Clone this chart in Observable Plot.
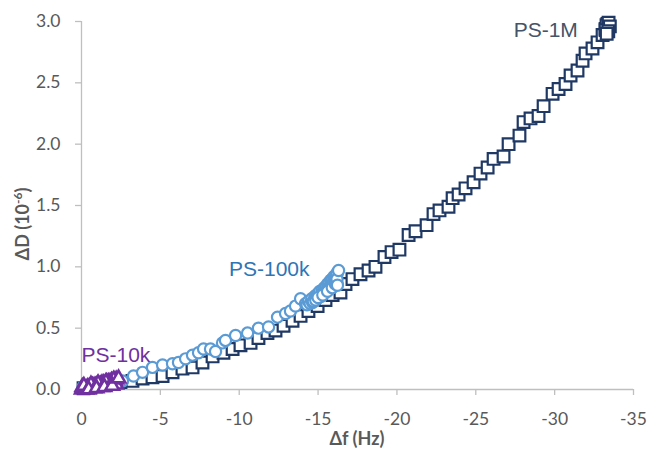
<!DOCTYPE html>
<html>
<head>
<meta charset="utf-8">
<script src="https://cdn.jsdelivr.net/npm/d3@7"></script>
<script src="https://cdn.jsdelivr.net/npm/@observablehq/plot@0.6"></script>
<style>
  html, body { margin: 0; padding: 0; background: #fff; }
  #chart svg { display: block; }
</style>
</head>
<body>
<div id="chart"></div>
<script>
// PS-1M (squares)
const ps1mDf = [-0.13,-0.57,-1.2,-1.84,-2.47,-3.23,-3.87,-4.5,-5.14,-5.77,-6.4,-7.04,-7.67,-8.31,-9.0,-9.58,-10.08,-10.72,-11.22,-11.79,-12.3,-12.81,-13.38,-13.89,-14.39,-14.97,-15.47,-15.92,-16.42,-16.74,-17.18,-17.69,-18.2,-18.64,-19.21,-19.66,-20.16,-20.74,-21.18,-21.88,-22.32,-22.7,-23.27,-23.53,-23.91,-24.35,-24.86,-25.3,-25.75,-26.13,-26.76,-27.08,-27.77,-28.03,-28.47,-28.98,-29.3,-29.87,-30.25,-30.69,-31.01,-31.45,-31.77,-31.96,-32.4,-32.72,-33.04,-33.23,-33.35,-33.29,-33.42,-33.23,-33.5,-33.4,-33.3];
const ps1mDD = [0.01,0.02,0.04,0.05,0.06,0.07,0.09,0.10,0.11,0.14,0.17,0.18,0.22,0.27,0.30,0.33,0.36,0.38,0.42,0.46,0.48,0.52,0.56,0.60,0.64,0.68,0.73,0.77,0.79,0.86,0.90,0.94,0.97,1.00,1.08,1.12,1.14,1.26,1.29,1.34,1.43,1.46,1.49,1.56,1.59,1.64,1.69,1.76,1.81,1.88,1.90,2.00,2.07,2.18,2.21,2.23,2.31,2.41,2.45,2.49,2.56,2.60,2.68,2.74,2.78,2.83,2.89,2.94,2.98,2.97,2.99,2.93,2.96,2.92,2.90];

// PS-100k (circles)
const ps100kDf = [-0.1,-0.5,-1.0,-1.6,-2.2,-2.6,-3.3,-3.87,-4.5,-5.14,-5.77,-6.15,-6.6,-7.04,-7.42,-7.74,-8.18,-8.5,-8.94,-9.13,-9.77,-10.53,-11.22,-11.86,-12.43,-12.94,-13.25,-13.57,-13.89,-14.2,-14.3,-14.4,-14.5,-14.6,-14.65,-14.7,-14.8,-14.85,-14.9,-15.0,-15.05,-15.1,-15.2,-15.25,-15.3,-15.4,-15.45,-15.5,-15.55,-15.6,-15.7,-15.7,-15.75,-15.8,-15.85,-15.9,-15.95,-16.0,-16.05,-16.1,-16.15,-16.2,-16.2,-15.0,-15.3,-15.6,-15.9,-16.1,-16.2,-16.2,-16.23,-16.3];
const ps100kDD = [0.02,0.03,0.04,0.05,0.06,0.07,0.11,0.14,0.18,0.20,0.21,0.22,0.25,0.28,0.30,0.33,0.33,0.31,0.38,0.40,0.44,0.46,0.50,0.51,0.59,0.62,0.64,0.68,0.74,0.70,0.69,0.72,0.70,0.74,0.71,0.72,0.76,0.73,0.77,0.78,0.75,0.80,0.76,0.81,0.79,0.83,0.79,0.84,0.81,0.86,0.87,0.82,0.84,0.89,0.85,0.90,0.87,0.92,0.88,0.93,0.91,0.95,0.94,0.75,0.77,0.80,0.83,0.86,0.87,0.90,0.85,0.97];

// PS-10k (triangles)
const ps10kDf = [-0.02,-0.1,-0.2,-0.3,-0.4,-0.5,-0.6,-0.7,-0.8,-0.9,-1.0,-1.1,-1.2,-1.3,-1.4,-1.5,-1.6,-1.7,-1.8,-1.9,-2.0,-2.1,-2.2,-0.05,-0.3,-0.8,-1.3,-1.8,-2.2,-0.15,-0.6,-1.05,-1.55,-2.05,-0.45,-0.95,-1.45,-1.95,-2.35];
const ps10kDD = [0.00,0.01,0.01,0.01,0.02,0.02,0.02,0.03,0.03,0.03,0.04,0.04,0.04,0.05,0.05,0.05,0.06,0.06,0.06,0.07,0.07,0.07,0.08,0.02,0.00,0.01,0.02,0.03,0.04,0.03,0.04,0.05,0.06,0.08,0.00,0.01,0.02,0.03,0.09];

// series labels
const labelNames = ["PS-1M", "PS-100k", "PS-10k"];
const labelDf = [-27.4, -9.35, 0.0];
const labelDD = [2.93, 0.98, 0.28];
const labelColors = ["#44546a", "#2e75b6", "#7030a0"];

const xTicks = [0, -5, -10, -15, -20, -25, -30, -35];
const yTicks = [0, 0.5, 1.0, 1.5, 2.0, 2.5, 3.0];

const zip = (xs, ys) => xs.map((x, i) => ({x, y: ys[i]}));
const d1M = zip(ps1mDf, ps1mDD);
const d100k = zip(ps100kDf, ps100kDD);
const d10k = zip(ps10kDf, ps10kDD);
const labels = labelNames.map((t, i) => ({t, x: labelDf[i], y: labelDD[i], c: labelColors[i]}));

const FONT = "Lato, 'Liberation Sans', sans-serif";
const AXIS = "#bfbfbf";
const TXT = "#595959";

const plot = Plot.plot({
  width: 651,
  height: 449,
  marginLeft: 81,
  marginRight: 18,
  marginTop: 21,
  marginBottom: 60,
  style: {fontFamily: FONT, fontSize: "17.5px", color: TXT, background: "#fff"},
  x: {domain: [0, -35], label: null},
  y: {domain: [0, 3], label: null},
  marks: [
    Plot.ruleY([0], {stroke: AXIS, strokeWidth: 1.3}),
    Plot.ruleX([0], {stroke: AXIS, strokeWidth: 1.3}),
    Plot.axisX({ticks: xTicks, tickFormat: d => String(d), tickSize: 6, tickPadding: 17, stroke: AXIS, strokeWidth: 1.3, fill: TXT, label: null}),
    Plot.axisY({ticks: yTicks, tickFormat: d => d.toFixed(1), tickSize: 6, tickPadding: 15, stroke: AXIS, strokeWidth: 1.3, fill: TXT, label: null}),
    Plot.dot(d1M, {x: "x", y: "y", symbol: "square", r: 6.6, stroke: "#1f3864", strokeWidth: 2.2, fill: "#fff"}),
    Plot.dot(d100k, {x: "x", y: "y", symbol: "circle", r: 5.6, stroke: "#5b9bd5", strokeWidth: 2.2, fill: "#fff"}),
    Plot.dot(d10k, {x: "x", y: "y", symbol: "triangle", r: 5, stroke: "#7030a0", strokeWidth: 2.6, fill: "#fff"}),
    Plot.text(labels, {x: "x", y: "y", text: "t", fill: "c", textAnchor: "start", fontSize: 21, fontFamily: "'Liberation Sans', Arial, sans-serif"})
  ]
});

document.getElementById("chart").appendChild(plot);

const svg = d3.select(plot);
// x-axis title
svg.append("text")
  .attr("x", 357).attr("y", 445)
  .attr("text-anchor", "middle")
  .attr("font-family", FONT).attr("font-weight", "bold").attr("font-size", 18)
  .attr("fill", TXT)
  .text("Δf (Hz)");
// y-axis title with superscript
const yt = svg.append("text")
  .attr("transform", "translate(29,224) rotate(-90)")
  .attr("text-anchor", "middle")
  .attr("font-family", FONT).attr("font-weight", "bold").attr("font-size", 18)
  .attr("fill", TXT);
yt.append("tspan").text("ΔD (10");
yt.append("tspan").attr("font-size", 12).attr("dy", -7).text("-6");
yt.append("tspan").attr("dy", 7).text(")");
</script>
</body>
</html>
